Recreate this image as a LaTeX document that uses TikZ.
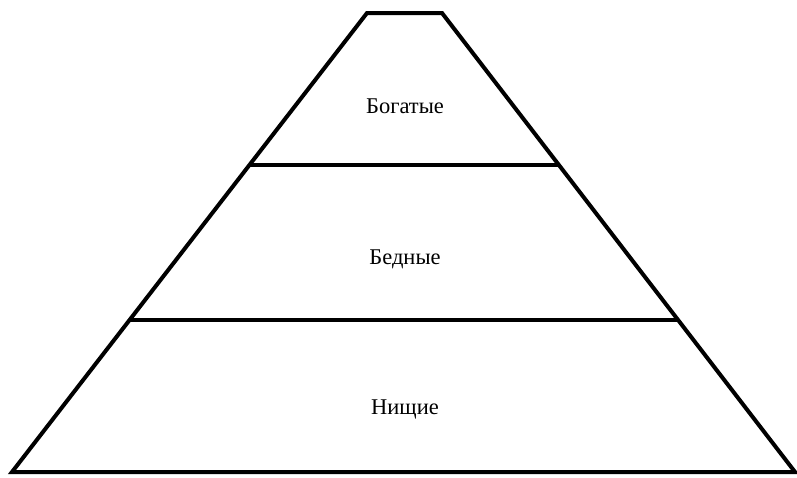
\documentclass[tikz,border=0pt]{standalone}
\usepackage{fontspec}
\setmainfont{Liberation Serif}
\usetikzlibrary{calc,positioning}
\tikzset{
myEdge/.style={
	draw=black,line width=4pt,line join=miter
}
, myLevel/.style={
	draw=black,line width=4pt
}
, myLabel/.style={
	inner sep=0pt,text=black,font=\fontsize{22.5}{27}\selectfont
}
}

\begin{document}
\begin{tikzpicture}[x=1pt,y=-1pt]
	\useasboundingbox (0,0) rectangle (797,477);
	% corners
	\coordinate (TopL) at (367,13);
	\coordinate (TopR) at (442,13);
	\coordinate (BotL) at (12,472);
	\coordinate (BotR) at (795,472);
	% levels
	\coordinate (UpL) at ($(TopL)!0.331!(BotL)$);
	\coordinate (UpR) at ($(TopR)!0.331!(BotR)$);
	\coordinate (LowL) at ($(TopL)!0.669!(BotL)$);
	\coordinate (LowR) at ($(TopR)!0.669!(BotR)$);
	% pyramid
	\draw [myEdge] (TopL) -- (TopR) -- (BotR) -- (BotL) -- cycle;
	\draw [myLevel] (UpL) -- (UpR);
	\draw [myLevel] (LowL) -- (LowR);
	% labels
	\node[myLabel] (Rich) at (405,106) {Богатые};
	\node[myLabel] (Poor) at (405,259) {Бедные};
	\node[myLabel] (Beggar) at (405,409) {Нищие};
\end{tikzpicture}
\end{document}
